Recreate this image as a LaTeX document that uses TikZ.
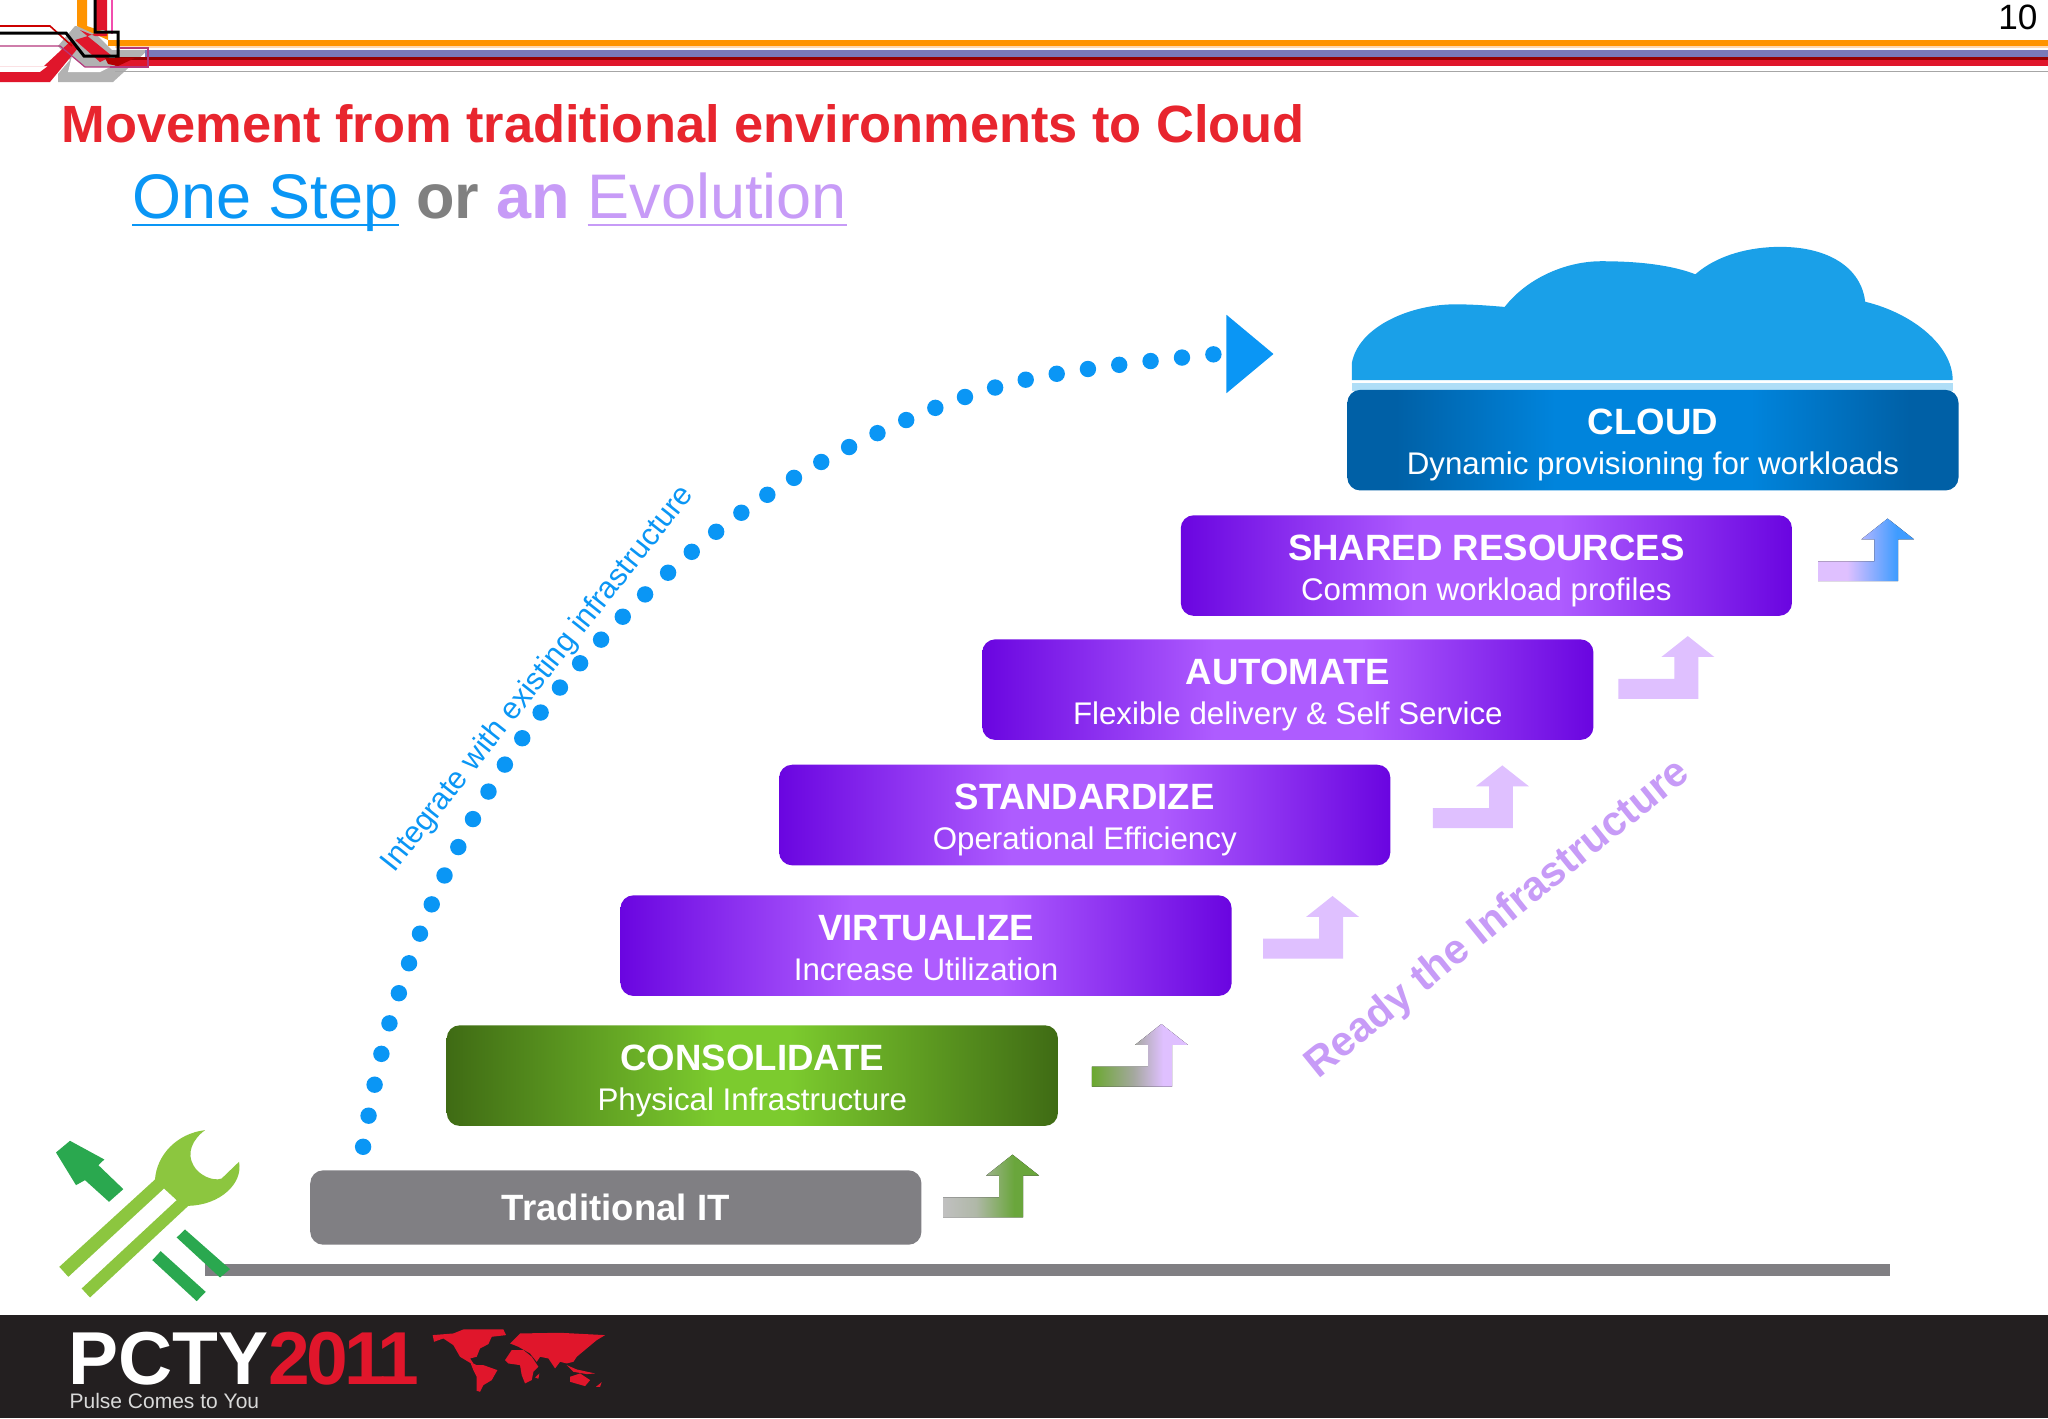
\documentclass[tikz,border=0pt]{standalone}
\usepackage{fontspec}
\setmainfont{Liberation Sans}
\newfontfamily\tightfont[LetterSpace=-5]{Liberation Sans}
\definecolor{pdark}{HTML}{6A05E0}
\definecolor{pmid}{HTML}{AE5CFF}
\definecolor{gdark}{HTML}{3F6B14}
\definecolor{gmid}{HTML}{7CCB2E}
\definecolor{bdark}{HTML}{0060A6}
\definecolor{bmid}{HTML}{0084DC}
\definecolor{lilac}{HTML}{DFC0FF}
\definecolor{lilactext}{HTML}{C79BF7}
\definecolor{dotblue}{HTML}{0A96F5}
\definecolor{cloudblue}{HTML}{1AA0E8}
\definecolor{stepgrey}{HTML}{807F83}
\definecolor{darkfoot}{HTML}{231F20}
\definecolor{pctyred}{HTML}{E0162B}
\definecolor{titlered}{HTML}{E8252E}
\definecolor{tooldark}{HTML}{2AA84F}
\definecolor{toollight}{HTML}{8CC63F}
\definecolor{agreyl}{HTML}{C0C0C0}
\definecolor{agreym}{HTML}{B0B8A8}
\definecolor{agreen}{HTML}{6AA63C}
\definecolor{bgreen}{HTML}{6AA82E}
\definecolor{bgrey}{HTML}{A5A8A0}
\definecolor{ablue}{HTML}{3F9CFF}
\pgfdeclarehorizontalshading{purplebar}{100bp}{color(0bp)=(pdark);color(25bp)=(pdark);color(44bp)=(pmid);color(56bp)=(pmid);color(75bp)=(pdark);color(100bp)=(pdark)}
\pgfdeclarehorizontalshading{greenbar}{100bp}{color(0bp)=(gdark);color(25bp)=(gdark);color(47bp)=(gmid);color(53bp)=(gmid);color(75bp)=(gdark);color(100bp)=(gdark)}
\pgfdeclarehorizontalshading{bluebar}{100bp}{color(0bp)=(bdark);color(25bp)=(bdark);color(29bp)=(bdark);color(42bp)=(bmid);color(58bp)=(bmid);color(71bp)=(bdark);color(75bp)=(bdark);color(100bp)=(bdark)}
\pgfdeclarehorizontalshading{arrowa}{100bp}{color(0bp)=(agreyl);color(25bp)=(agreyl);color(42bp)=(agreym);color(62bp)=(agreen);color(75bp)=(agreen);color(100bp)=(agreen)}
\pgfdeclarehorizontalshading{arrowb}{100bp}{color(0bp)=(bgreen);color(25bp)=(bgreen);color(47bp)=(bgrey);color(62bp)=(lilac);color(75bp)=(lilac);color(100bp)=(lilac)}
\pgfdeclarehorizontalshading{arrowf}{100bp}{color(0bp)=(lilac);color(25bp)=(lilac);color(40bp)=(lilac);color(66bp)=(ablue);color(75bp)=(ablue);color(100bp)=(ablue)}
\tikzset{
  stepbox/.style={rounded corners=6.5pt,minimum width=305.6pt,minimum height=50.3pt,inner sep=0pt,text=white,align=center,font=\fontsize{16}{20}\selectfont},
  plain/.style={inner sep=0pt,anchor=base west},
}
\newcommand{\steptext}[2]{\rule{0pt}{18pt}{\fontsize{18.3}{20}\selectfont\bfseries #1}\\\rule[-3.4pt]{0pt}{3.4pt}{\fontsize{15.65}{20}\selectfont #2}}
\newcommand{\elbow}[3]{\fill[#3] (#1,#2) -- ++(0,-15.3) -- ++(43,0) -- ++(0,-16.7) -- ++(-10,0) -- ++(20.2,-16) -- ++(20.3,16) -- ++(-12.2,0) -- ++(0,32) -- cycle;}
\newcommand{\ulined}[1]{\leavevmode\sbox0{#1}\rlap{\rule[-3.8pt]{\wd0}{1pt}}\usebox0}
\begin{document}
\begin{tikzpicture}[x=0.653061pt,y=-0.653061pt]
\useasboundingbox (0,0) rectangle (1568,1085.7);
\fill[white] (0,0) rectangle (1568,1085.7);

% header band (full-size pixel coordinates)
\begin{scope}[x=0.5pt,y=-0.5pt]
\fill[gray!60] (75,26) -- (58,46) -- (70,60) -- (58,74) -- (58,82) -- (113,82) -- (148,50) -- (112,50) -- (90,28) -- cycle;
\fill[white] (72,56) -- (84,67) -- (110,67) -- (100,72) -- (68,72) -- cycle;
\fill[orange!85!yellow] (77,0) rectangle (87,26) -- (77,26) -- (108,40) -- (108,33) -- (87,26) -- cycle;
\fill[orange!85!yellow] (108,40) rectangle (2048,46);
\fill[orange!30] (115,46) rectangle (2048,48);
\fill[gray!70!blue!80] (145,50) rectangle (2048,57);
\fill[red!60!black] (115,57) rectangle (2048,60);
\fill[pctyred] (115,60) rectangle (2048,66);
\draw[gray!70,line width=0.5pt] (115,71) -- (2048,71);
\fill[pctyred] (95,0) rectangle (107,30) -- (107,36) -- (95,36) -- (80,30) -- (112,56) -- (100,62) -- (75,40) -- cycle;
\fill[pctyred] (0,66) -- (44,66) -- (72,40) -- (78,48) -- (50,82) -- (0,82) -- (0,72) -- (40,72) -- (48,66) -- cycle;
\fill[red!70!black] (105,58) -- (135,58) -- (118,66) -- (108,64) -- cycle;
\draw[magenta!70!black,line width=0.6pt] (0,46) -- (60,46) -- (85,67) -- (110,67);
\draw[magenta!70,line width=0.6pt] (112,0) -- (112,34);
\draw[magenta!70!black,line width=0.6pt] (120,48) -- (148,48) -- (148,67) -- (110,67);
\draw[red!80!black,line width=0.8pt] (0,26) -- (50,26) -- (72,46);
\draw[black,line width=1.5pt] (95,0) -- (95,32) -- (118,32) -- (118,56) -- (84,56) -- (66,33) -- (0,33);
\end{scope}

\node[font=\fontsize{17.6}{20}\selectfont,inner sep=0pt] (pagenum) at (1545,13) {10};

% titles
\node[plain,text=titlered,font=\fontsize{26.2}{30}\selectfont\bfseries] (title) at (47,109) {Movement from traditional environments to Cloud};
\node[plain,font=\fontsize{31.5}{36}\selectfont] (subtitle) at (101,167) {\textcolor{dotblue}{\ulined{One Step}} \textcolor{gray}{\textbf{or}} \textcolor{lilactext}{\textbf{an}} \textcolor{lilactext}{\ulined{Evolution}}};

% cloud
\fill[cloudblue] (1035,291) -- (1035,278) .. controls (1040,250) and (1080,233) .. (1114,233) .. controls (1128,233) and (1140,234) .. (1152,235) .. controls (1170,212) and (1200,200) .. (1226,200) .. controls (1255,200) and (1280,203) .. (1298,210) .. controls (1315,195) and (1340,189) .. (1363,189) .. controls (1400,189) and (1425,205) .. (1428,231) .. controls (1465,240) and (1495,265) .. (1495,291) -- cycle;
\fill[cloudblue!35] (1035,293) rectangle (1495,299);

% baseline
\fill[stepgrey] (157,968) rectangle (1447,977);

% steps
\node[stepbox,fill=stepgrey,minimum height=37.2pt] (trad) at (471.5,924.5) {\fontsize{18.3}{20}\selectfont\bfseries Traditional IT};
\node[stepbox,shading=greenbar] (cons) at (576,823.5) {\steptext{CONSOLIDATE}{Physical Infrastructure}};
\node[stepbox,shading=purplebar] (virt) at (709,724) {\steptext{VIRTUALIZE}{Increase Utilization}};
\node[stepbox,shading=purplebar] (stan) at (830.5,624) {\steptext{STANDARDIZE}{Operational Efficiency}};
\node[stepbox,shading=purplebar] (auto) at (986,528) {\steptext{AUTOMATE}{Flexible delivery \& Self Service}};
\node[stepbox,shading=purplebar] (shar) at (1138,433) {\steptext{SHARED RESOURCES}{Common workload profiles}};
\node[stepbox,shading=bluebar] (clou) at (1265.5,337) {\steptext{CLOUD}{Dynamic provisioning for workloads}};

% elbow arrows
\elbow{722}{932}{shading=arrowa}
\elbow{836}{832}{shading=arrowb}
\elbow{967}{734}{lilac}
\elbow{1097}{634}{lilac}
\elbow{1239}{535}{lilac}
\elbow{1392}{445}{shading=arrowf}

% dotted evolution curve
\coordinate (dotstart) at (278,878);
\coordinate (dotend) at (932,271);
\draw[dotblue,line width=8.2pt,line cap=round,dash pattern=on 0pt off 15.79pt] plot[smooth,tension=0.6] coordinates {(dotstart) (298,784) (340,671) (400,565) (476,473) (567,393) (671,332) (784,291) (dotend)};
\fill[dotblue] (939,241) -- (975,271) -- (939,301) -- cycle;

\node[text=dotblue,font=\fontsize{15.3}{18}\selectfont,rotate=51.6,inner sep=0pt] (integrate) at (412,520) {Integrate with existing infrastructure};
\node[text=lilactext,font=\fontsize{20.8}{24}\selectfont\bfseries,rotate=39,inner sep=0pt] (ready) at (1147,704) {Ready the Infrastructure};

% tool icon (full-size crop coordinates mapped to units)
\begin{scope}[shift={(30.63,857.6)},x=0.16667pt,y=-0.16667pt]
\fill[toollight] (345,178) .. controls (350,105) and (410,40) .. (495,30) .. controls (455,60) and (440,100) .. (460,135) .. controls (475,165) and (520,185) .. (545,175) -- (597,125) .. controls (610,190) and (540,255) .. (445,257) -- (150,532) -- (125,505) -- (410,240) -- (372,205) -- (85,470) -- (58,440) -- cycle;
\fill[tooldark] (90,62) -- (193,118) -- (175,135) -- (250,207) -- (207,245) -- (135,180) -- (108,195) -- (48,97) -- cycle;
\fill[tooldark] (435,328) -- (410,352) -- (540,472) -- (570,447) -- cycle;
\fill[tooldark] (362,393) -- (337,420) -- (470,543) -- (497,515) -- cycle;
\end{scope}

% footer
\fill[darkfoot] (0,1007) rectangle (1568,1085.7);
\node[plain,text=white,font=\fontsize{37.5}{40}\selectfont\bfseries] (pcty) at (52,1060) {PCTY};
\node[plain,text=pctyred,font=\tightfont\fontsize{37.5}{40}\selectfont\bfseries] (year) at (205,1060) {2011};
\node[plain,text=white!85!black,font=\fontsize{10.5}{12}\selectfont] (pulse) at (53,1078) {Pulse Comes to You};
\begin{scope}[shift={(321.6,1010.7)},x=0.16667pt,y=-0.16667pt]
\fill[pctyred] (38,45) -- (100,40) -- (130,28) -- (250,28) -- (258,45) -- (215,50) -- (205,72) -- (180,85) -- (170,110) -- (150,115) -- (160,130) -- (150,128) -- (120,110) -- (100,75) -- (70,55) -- (42,65) -- cycle;
\fill[pctyred] (150,125) -- (170,135) -- (190,135) -- (232,150) -- (215,180) -- (190,195) -- (180,215) -- (170,212) -- (170,170) -- (160,150) -- cycle;
\fill[pctyred] (255,120) -- (275,90) -- (310,90) -- (335,110) -- (355,140) -- (340,155) -- (335,180) -- (315,190) -- (305,165) -- (300,135) -- (265,130) -- cycle;
\fill[pctyred] (270,70) -- (300,40) -- (420,38) -- (555,45) -- (530,60) -- (500,85) -- (470,110) -- (460,125) -- (440,130) -- (420,125) -- (405,145) -- (385,115) -- (360,110) -- (350,125) -- (330,100) -- (295,80) -- cycle;
\fill[pctyred] (440,135) -- (470,148) -- (525,160) -- (500,162) -- (460,155) -- cycle;
\fill[pctyred] (450,170) -- (480,160) -- (510,180) -- (495,198) -- (450,185) -- cycle;
\fill[pctyred] (345,172) -- (358,160) -- (355,176) -- cycle;
\fill[pctyred] (528,200) -- (545,186) -- (540,200) -- cycle;
\end{scope}
\end{tikzpicture}
\end{document}
